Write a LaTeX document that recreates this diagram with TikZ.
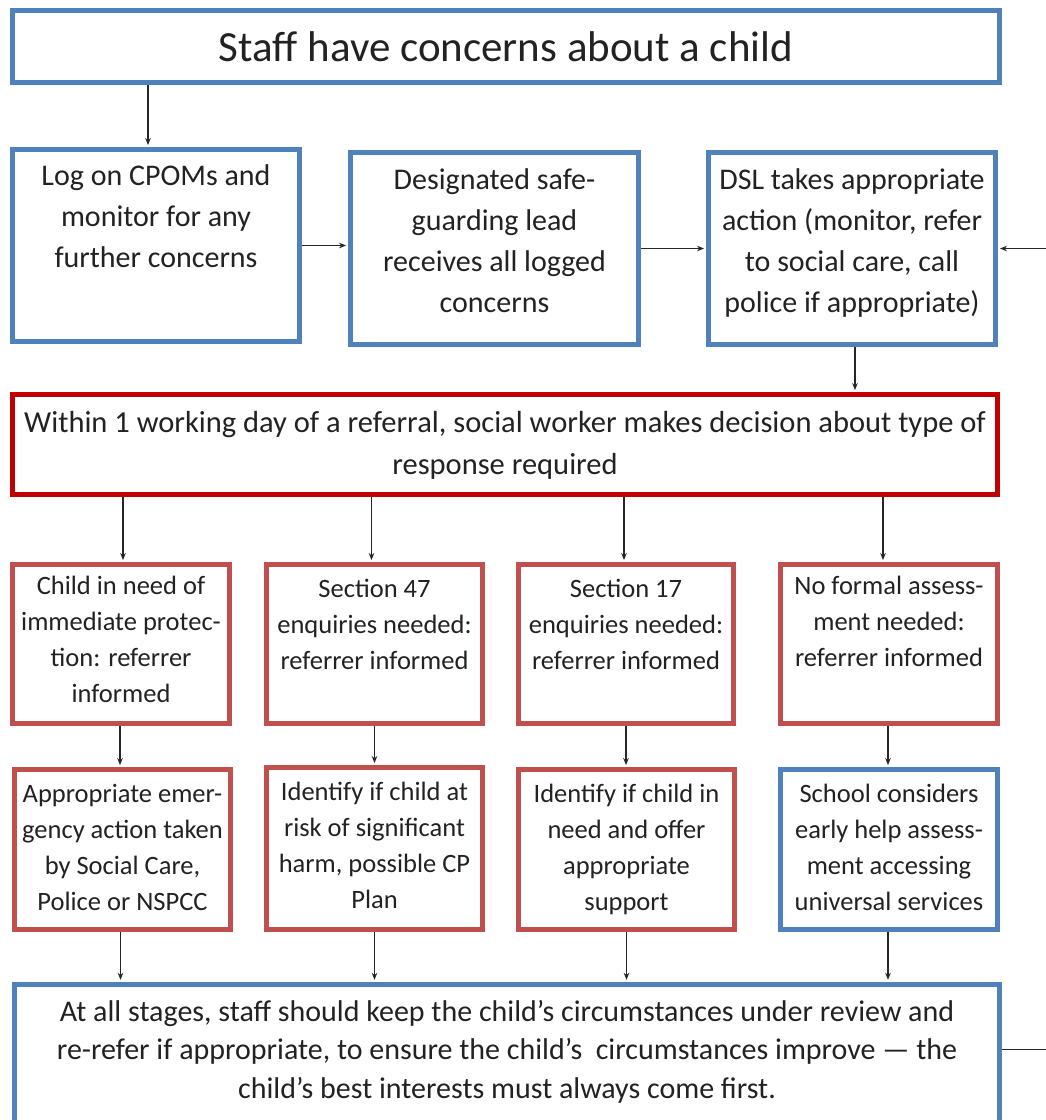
\documentclass[tikz,border=0pt]{standalone}
\usepackage{fontspec}
\setmainfont{Carlito}
\usetikzlibrary{arrows.meta,calc}
\definecolor{boxblue}{HTML}{4F81BD}
\definecolor{darkred}{HTML}{C00000}
\definecolor{softred}{HTML}{C0504D}
\definecolor{txtcol}{HTML}{222222}
\begin{document}
\begin{tikzpicture}[x=1pt,y=-1pt,
  bluebox/.style={draw=boxblue, line width=4.5pt, inner sep=0pt},
  redbox/.style={draw=darkred, line width=4.5pt, inner sep=0pt},
  pinkbox/.style={draw=softred, line width=4.5pt, inner sep=0pt},
  sz/.style 2 args={minimum width=#1, minimum height=#2},
  tbig/.style={font=\fontsize{30}{41}\selectfont, align=center, anchor=north, inner sep=0pt, text=txtcol},
  tmid/.style={font=\fontsize{30.5}{42}\selectfont, align=center, anchor=north, inner sep=0pt, text=txtcol},
  tsmall/.style={font=\fontsize{26.5}{36}\selectfont, align=center, anchor=north, inner sep=0pt, text=txtcol},
  tbot/.style={font=\fontsize{30}{38.5}\selectfont, align=center, anchor=north, inner sep=0pt, text=txtcol},
  arr/.style={-{Stealth[length=7pt,width=5.5pt]}, line width=1.2pt, draw=black!85, shorten >=2.2pt}
]
\useasboundingbox[fill=white] (0,0) rectangle (1046,1120);

% top
\node[bluebox, sz={987pt}{72pt}, font=\fontsize{43}{50}\selectfont, text=txtcol] (top) at (506,46.5) {Staff have concerns about a child};

% row 2
\node[bluebox, sz={287pt}{192pt}] (b1) at (156,245.5) {};
\node[tbig] (b1t) at ([yshift=-17pt]b1.north) {Log on CPOMs and\\monitor for any\\further concerns};
\node[bluebox, sz={288pt}{192pt}] (b2) at (494.5,248.5) {};
\node[tbig] (b2t) at ([yshift=-18pt]b2.north) {Designated safe-\\guarding lead\\receives all logged\\concerns};
\node[bluebox, sz={287pt}{192pt}] (b3) at (852,248.5) {};
\node[tbig] (b3t) at ([yshift=-18pt]b3.north) {DSL takes appropriate\\action (monitor, refer\\to social care, call\\police if appropriate)};

% red decision box
\node[redbox, sz={985pt}{100pt}] (dec) at (505,444.5) {};
\node[tmid] (dect) at ([yshift=-19pt]dec.north) {Within 1 working day of a referral, social worker makes decision about type of\\response required};

% row 3
\node[pinkbox, sz={217pt}{159pt}] (c1) at (121,644) {};
\node[tsmall] (c1t) at ([yshift=-14pt]c1.north) {Child in need of\\immediate protec-\\tion: referrer\\informed};
\node[pinkbox, sz={216pt}{159pt}] (c2) at (374.5,644) {};
\node[tsmall] (c2t) at ([yshift=-17pt]c2.north) {Section 47\\enquiries needed:\\referrer informed};
\node[pinkbox, sz={215pt}{159pt}] (c3) at (626,644) {};
\node[tsmall] (c3t) at ([yshift=-17pt]c3.north) {Section 17\\enquiries needed:\\referrer informed};
\node[pinkbox, sz={217pt}{159pt}] (c4) at (889,644) {};
\node[tsmall] (c4t) at ([yshift=-14pt]c4.north) {No formal assess-\\ment needed:\\referrer informed};

% row 4
\node[pinkbox, sz={216pt}{160pt}] (d1) at (122.5,849.5) {};
\node[tsmall] (d1t) at ([yshift=-17pt]d1.north) {Appropriate emer-\\gency action taken\\by Social Care,\\Police or NSPCC};
\node[pinkbox, sz={216pt}{162pt}] (d2) at (374.5,848.5) {};
\node[tsmall] (d2t) at ([yshift=-17pt]d2.north) {Identify if child at\\risk of significant\\harm, possible CP\\Plan};
\node[pinkbox, sz={216pt}{160pt}] (d3) at (626.5,849.5) {};
\node[tsmall] (d3t) at ([yshift=-17pt]d3.north) {Identify if child in\\need and offer\\appropriate\\support};
\node[bluebox, sz={217pt}{160pt}] (d4) at (889,849.5) {};
\node[tsmall] (d4t) at ([yshift=-17pt]d4.north) {School considers\\early help assess-\\ment accessing\\universal services};

% bottom
\node[bluebox, sz={985pt}{139pt}] (bot) at (507,1053.75) {};
\node[tbot] (bott) at ([yshift=-18pt]bot.north) {At all stages, staff should keep the child’s circumstances under review and\\re-refer if appropriate, to ensure the child’s\ \ circumstances improve — the\\child’s best interests must always come first.};

\coordinate (loop) at (1075,0);

% connectors
\draw[arr] ([xshift=-8pt]b1.north |- top.south) -- ([xshift=-8pt]b1.north);
\draw[arr] (b1.east) -- (b2.west |- b1.east);
\draw[arr] (b2.east) -- (b3.west |- b2.east);
\draw[arr] ([xshift=3pt]b3.south) -- ([xshift=3pt]b3.south |- dec.north);
\draw[arr] ([xshift=2pt]c1.north |- dec.south) -- ([xshift=2pt]c1.north);
\draw[arr] ([xshift=-3pt]c2.north |- dec.south) -- ([xshift=-3pt]c2.north);
\draw[arr] ([xshift=-2pt]c3.north |- dec.south) -- ([xshift=-2pt]c3.north);
\draw[arr] ([xshift=-6pt]c4.north |- dec.south) -- ([xshift=-6pt]c4.north);
\draw[arr] ([xshift=-1pt]c1.south) -- ([xshift=-1pt]c1.south |- d1.north);
\draw[arr] (c2.south) -- (c2.south |- d2.north);
\draw[arr] (c3.south) -- (c3.south |- d3.north);
\draw[arr] ([xshift=-1pt]c4.south) -- ([xshift=-1pt]c4.south |- d4.north);
\draw[arr] ([xshift=-2pt]d1.south) -- ([xshift=-2pt]d1.south |- bot.north);
\draw[arr] (d2.south) -- (d2.south |- bot.north);
\draw[arr] (d3.south) -- (d3.south |- bot.north);
\draw[arr] ([xshift=-1pt]d4.south) -- ([xshift=-1pt]d4.south |- bot.north);
\draw[arr] ([yshift=4pt]bot.east) -- ([yshift=4pt]bot.east -| loop) -- (loop |- b3.east) -- (b3.east);
\end{tikzpicture}
\end{document}
